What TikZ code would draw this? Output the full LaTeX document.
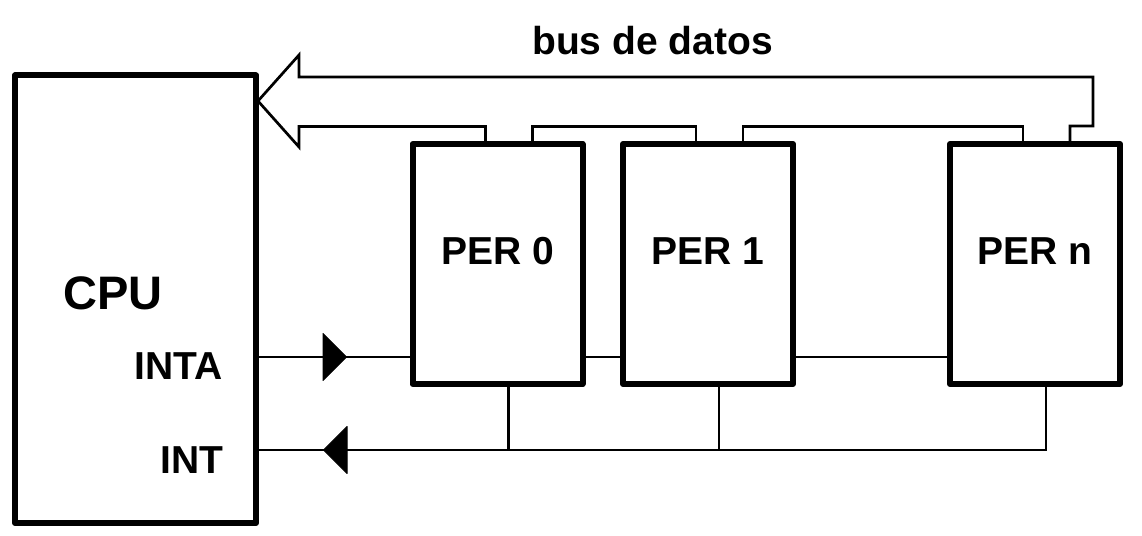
\documentclass[tikz,border=0pt]{standalone}
\usepackage{fontspec}
\setmainfont{Liberation Sans}
\usetikzlibrary{calc}
\tikzset{
  box/.style={draw, line width=6pt, line join=round, minimum width=170pt,
    minimum height=240pt, inner sep=0pt, outer sep=0pt},
  sig/.style={line width=2.7pt},
  lbl/.style={font=\bfseries\fontsize{39}{42}\selectfont, inner sep=0pt},
  tri/.style={line width=1pt, line join=round, fill},
}
\begin{document}
\begin{tikzpicture}[x=1pt,y=1pt]
\useasboundingbox (0,0) rectangle (1142,535);

% cpu y perifericos
\node[box, minimum width=241pt, minimum height=447.5pt] (cpu) at (135.5,235.75) {};
\node[box] (per0) at (497.5,271) {};
\node[box] (per1) at (708,271) {};
\node[box] (pern) at (1035,271) {};

\node[lbl, font=\bfseries\fontsize{47}{50}\selectfont, anchor=base west] (cpul) at (63,225) {CPU};
\node[lbl, anchor=base] (t0) at ([yshift=-1pt]per0.center) {PER 0};
\node[lbl, anchor=base] (t1) at ([yshift=-1pt]per1.center) {PER 1};
\node[lbl, anchor=base] (tn) at ([yshift=-1pt]pern.center) {PER n};

% bus de datos
\coordinate (tip) at (258,434);
\draw[sig] ([xshift=-12pt]per0.north) -- ++(0,17.5) -| (299,388) -- (tip)
  -- (299,480) -- (299,458) -| (1093,409) -| ([xshift=35pt]pern.north);
\draw[sig] ([xshift=35pt]per0.north) -- ++(0,17.5) -| ([xshift=-12pt]per1.north);
\draw[sig] ([xshift=35pt]per1.north) -- ++(0,17.5) -| ([xshift=-12pt]pern.north);
\node[lbl, anchor=base] (busl) at (652.5,480) {bus de datos};

% INTA
\coordinate (inta) at (256,178);
\draw[sig] (inta) -- (inta -| per0.west);
\draw[sig] (inta -| per0.east) -- (inta -| per1.west);
\draw[sig] (inta -| per1.east) -- (inta -| pern.west);
\filldraw[tri] ($(inta)+(67,23.5)$) -- ++(23.5,-23.5) -- ++(-23.5,-23.5) -- cycle;
\node[lbl, anchor=base east] (intal) at (223,155) {INTA};

% INT
\coordinate (int) at (256,85);
\coordinate (q0) at ([xshift=11pt]per0.south);
\coordinate (q1) at ([xshift=11pt]per1.south);
\coordinate (qn) at ([xshift=11pt]pern.south);
\draw[sig] (qn) |- (int);
\draw[sig] (q0) -- (q0 |- int);
\draw[sig] (q1) -- (q1 |- int);
\filldraw[tri] ($(int)+(67.5,0)$) -- ++(23.5,23.5) -- ++(0,-47) -- cycle;
\node[lbl, anchor=base east] (intl) at (224,61) {INT};
\end{tikzpicture}
\end{document}
